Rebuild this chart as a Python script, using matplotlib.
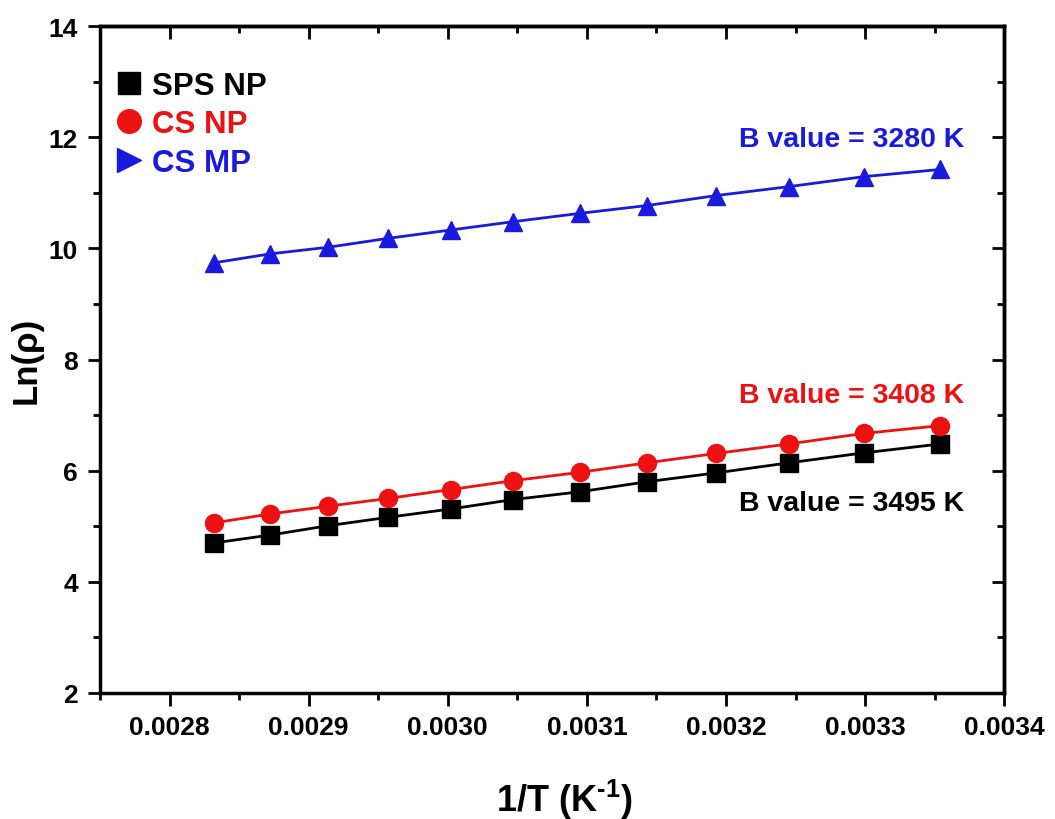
import matplotlib
matplotlib.use("Agg")
import matplotlib.pyplot as plt
from matplotlib.lines import Line2D
from matplotlib.ticker import MultipleLocator, FormatStrFormatter

plt.rcParams["font.family"] = ["Liberation Sans", "DejaVu Sans"]
plt.rcParams["font.weight"] = "bold"
plt.rcParams["mathtext.fontset"] = "custom"
plt.rcParams["mathtext.rm"] = "Liberation Sans:bold"
plt.rcParams["mathtext.bf"] = "Liberation Sans:bold"
plt.rcParams["mathtext.default"] = "bf"

# 1/T for 80 C .. 25 C in 5 K steps
inv_T = [0.002832, 0.002872, 0.002914, 0.002957, 0.003002, 0.003047,
         0.003095, 0.003143, 0.003193, 0.003245, 0.003299, 0.003354]

sps_np = [4.70, 4.84, 5.01, 5.16, 5.31, 5.48, 5.62, 5.80, 5.96, 6.14, 6.32, 6.48]
cs_np = [5.06, 5.22, 5.36, 5.50, 5.66, 5.82, 5.97, 6.14, 6.31, 6.48, 6.67, 6.81]
cs_mp = [9.74, 9.90, 10.02, 10.18, 10.33, 10.48, 10.63, 10.77, 10.95, 11.11, 11.29, 11.42]

labels = ["SPS NP", "CS NP", "CS MP"]
colors = ["black", "#ee1111", "#1a1adf"]
b_values = ["B value = 3495 K", "B value = 3408 K", "B value = 3280 K"]

fig = plt.figure(figsize=(10.55, 8.2), dpi=100)
ax = fig.add_axes([0.0948, 0.1537, 0.857, 0.8133])

ax.plot(inv_T, sps_np, color=colors[0], marker="s", ms=12.5, lw=2)
ax.plot(inv_T, cs_np, color=colors[1], marker="o", ms=13, lw=2)
ax.plot(inv_T, cs_mp, color=colors[2], marker="^", ms=13.5, lw=2)

ax.set_xlim(0.00275, 0.0034)
ax.set_ylim(2, 14)
ax.xaxis.set_major_locator(MultipleLocator(0.0001))
ax.xaxis.set_minor_locator(MultipleLocator(0.00005))
ax.xaxis.set_major_formatter(FormatStrFormatter("%.4f"))
ax.yaxis.set_major_locator(MultipleLocator(2))
ax.yaxis.set_minor_locator(MultipleLocator(1))

for sp in ax.spines.values():
    sp.set_linewidth(2.5)
ax.tick_params(which="major", direction="out", length=9, width=2, labelsize=19, pad=7)
ax.tick_params(which="minor", direction="out", length=5, width=2)
for lab in ax.get_xticklabels() + ax.get_yticklabels():
    lab.set_fontweight("bold")

# inward ticks on top and right
top = ax.secondary_xaxis("top")
top.xaxis.set_major_locator(MultipleLocator(0.0001))
top.xaxis.set_minor_locator(MultipleLocator(0.00005))
top.tick_params(which="major", direction="in", length=9, width=2, labeltop=False)
top.tick_params(which="minor", direction="in", length=5, width=2)
top.spines["top"].set_linewidth(2.5)
right = ax.secondary_yaxis("right")
right.yaxis.set_major_locator(MultipleLocator(2))
right.yaxis.set_minor_locator(MultipleLocator(1))
right.tick_params(which="major", direction="in", length=9, width=2, labelright=False)
right.tick_params(which="minor", direction="in", length=5, width=2)
right.spines["right"].set_linewidth(2.5)

ax.set_xlabel("1/T (K$^{\u2010 1}$)", fontsize=26, fontweight="bold")
ax.xaxis.set_label_coords(0.513, -0.125)
ax.set_ylabel("Ln(\u03c1)", fontsize=25, fontweight="bold", labelpad=4)

handles = [
    Line2D([], [], color=colors[0], marker="s", ls="none", ms=16),
    Line2D([], [], color=colors[1], marker="o", ls="none", ms=17),
    Line2D([], [], color=colors[2], marker=">", ls="none", ms=17),
]
leg = ax.legend(handles, labels, loc="upper left", bbox_to_anchor=(-0.015, 0.975),
                frameon=False, fontsize=22.5, handlelength=0.9, handletextpad=0.3,
                labelspacing=0.27, borderaxespad=0.5)
for txt, c in zip(leg.get_texts(), colors):
    txt.set_color(c)
    txt.set_fontweight("bold")

ax.text(0.00329, 11.97, b_values[2], color=colors[2], fontsize=20.5,
        fontweight="bold", ha="center", va="center")
ax.text(0.00329, 7.37, b_values[1], color=colors[1], fontsize=20.5,
        fontweight="bold", ha="center", va="center")
ax.text(0.00329, 5.42, b_values[0], color=colors[0], fontsize=20.5,
        fontweight="bold", ha="center", va="center")

fig.savefig("out.png", dpi=100)
